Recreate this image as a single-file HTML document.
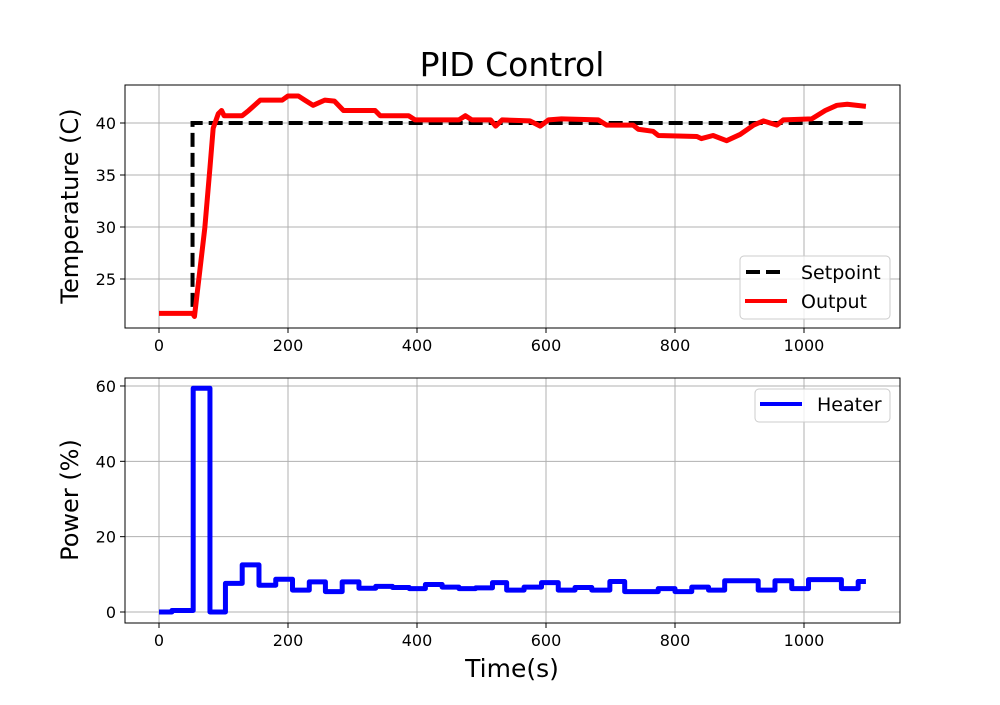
<!DOCTYPE html>
<html><head><meta charset="utf-8"><style>
body{margin:0;background:#fff}
svg{font-family:"DejaVu Sans","Liberation Sans",sans-serif}
</style></head><body>
<svg id="c" width="1000" height="700" xmlns="http://www.w3.org/2000/svg"></svg>
<script>
const heaterT=[0,20,53,79,103,129,155,181,207,233,258,284,310,336,362,388,413,439,465,491,517,539,566,593,619,645,671,699,722,774,800,826,852,877,929,955,981,1007,1058,1084,1096];
const heaterP=[0,0.4,59.4,0,7.6,12.5,7.1,8.7,5.8,8.0,5.4,8.0,6.3,6.8,6.5,6.2,7.3,6.6,6.2,6.4,7.8,5.8,6.6,7.8,5.8,6.5,5.8,8.1,5.4,6.2,5.4,6.6,5.8,8.3,5.8,8.3,6.2,8.6,6.2,8.1,8.1];
const outT=[0,52,55,71,79,84,92,97,101,129,139,157,191,200,216,226,239,257,272,286,335,343,387,397,465,475,485,514,522,532,575,591,604,624,681,694,735,743,766,774,834,841,859,880,901,922,937,958,968,1012,1033,1051,1067,1096];
const outV=[21.7,21.7,21.4,29.9,35.7,39.5,40.9,41.2,40.7,40.7,41.2,42.2,42.2,42.6,42.6,42.2,41.7,42.2,42.1,41.2,41.2,40.7,40.7,40.3,40.3,40.7,40.3,40.3,39.7,40.3,40.2,39.7,40.3,40.4,40.3,39.8,39.8,39.4,39.2,38.8,38.7,38.5,38.8,38.3,38.9,39.8,40.2,39.8,40.3,40.4,41.2,41.7,41.8,41.6];
const spT=[0,52,52,1096];
const spV=[21.7,21.7,40,40];
const xTicks=[0,200,400,600,800,1000];
const tTicks=[25,30,35,40];
const pTicks=[0,20,40,60];

const NS="http://www.w3.org/2000/svg";
const svg=document.getElementById('c');
function el(t,a,p){const e=document.createElementNS(NS,t);for(const k in a)e.setAttribute(k,a[k]);(p||svg).appendChild(e);return e;}
const L=125,R=900;
const xs=t=>159+t*0.645;
const ys1=v=>123-(v-40)*10.4;
const ys2=v=>612-v*3.767;
function axes(top,bot,ys,ticks,name){
  const g=el('g',{});
  
  
  xTicks.forEach(t=>{el('line',{x1:xs(t),x2:xs(t),y1:top,y2:bot,stroke:'#b0b0b0','stroke-width':1},g);
    el('line',{x1:xs(t),x2:xs(t),y1:bot,y2:bot+5,stroke:'#000'},g);
    const tx=el('text',{x:xs(t),y:bot+23,'font-size':16,'text-anchor':'middle'},g);tx.textContent=t;});
  ticks.forEach(v=>{el('line',{x1:L,x2:R,y1:ys(v),y2:ys(v),stroke:'#b0b0b0','stroke-width':1},g);
    el('line',{x1:L-5,x2:L,y1:ys(v),y2:ys(v),stroke:'#000'},g);
    const tx=el('text',{x:L-9,y:ys(v)+6,'font-size':16,'text-anchor':'end'},g);tx.textContent=v;});
  return g;
}
function path(T,V,ys,step){let d='';T.forEach((t,i)=>{if(i==0)d='M'+xs(t)+','+ys(V[i]);else{if(step)d+='L'+xs(t)+','+ys(V[i-1]);d+='L'+xs(t)+','+ys(V[i]);}});return d;}

axes(85,328,ys1,tTicks,'temperature-axes');
const sp=el('path',{d:path(spT,spV,ys1,false),fill:'none',stroke:'#000','stroke-width':4,'stroke-dasharray':'14,6'});


const op=el('path',{d:path(outT,outV,ys1,false),fill:'none',stroke:'#f00','stroke-width':5,'stroke-linejoin':'round'});


el('rect',{x:L,y:85,width:R-L,height:243,fill:'none',stroke:'#000','stroke-width':1});

axes(378,623,ys2,pTicks,'power-axes');
const hp=el('path',{d:path(heaterT,heaterP,ys2,true),fill:'none',stroke:'#00f','stroke-width':5,'stroke-linejoin':'round'});


el('rect',{x:L,y:378,width:R-L,height:245,fill:'none',stroke:'#000','stroke-width':1});

function txt(x,y,s,size,name,rot){const t=el('text',{x:x,y:y,'font-size':size,'text-anchor':'middle'});if(rot)t.setAttribute('transform','rotate(-90 '+x+' '+y+')');t.textContent=s;

return t;}
txt(512,76,'PID Control',33,'chart-title');
txt(78,206,'Temperature (C)',24,'temperature-axis-title',true);
txt(78,500,'Power (%)',24,'power-axis-title',true);
txt(512,677,'Time(s)',25,'x-axis-title');

const lg1=el('g',{});


el('rect',{x:740,y:256,width:150,height:63,rx:4,fill:'#fff','fill-opacity':0.8,stroke:'#ccc'},lg1);
el('line',{x1:746,x2:786,y1:272,y2:272,stroke:'#000','stroke-width':4,'stroke-dasharray':'14,6'},lg1);
el('line',{x1:745,x2:787,y1:301,y2:301,stroke:'#f00','stroke-width':4},lg1);
let t=el('text',{x:801,y:279,'font-size':19},lg1);t.textContent='Setpoint';
t=el('text',{x:801,y:308,'font-size':19},lg1);t.textContent='Output';
const lg2=el('g',{});


el('rect',{x:755,y:389,width:135,height:33,rx:4,fill:'#fff','fill-opacity':0.8,stroke:'#ccc'},lg2);
el('line',{x1:760,x2:802,y1:404,y2:404,stroke:'#00f','stroke-width':4},lg2);
t=el('text',{x:817,y:411,'font-size':19},lg2);t.textContent='Heater';
</script>
</body></html>
